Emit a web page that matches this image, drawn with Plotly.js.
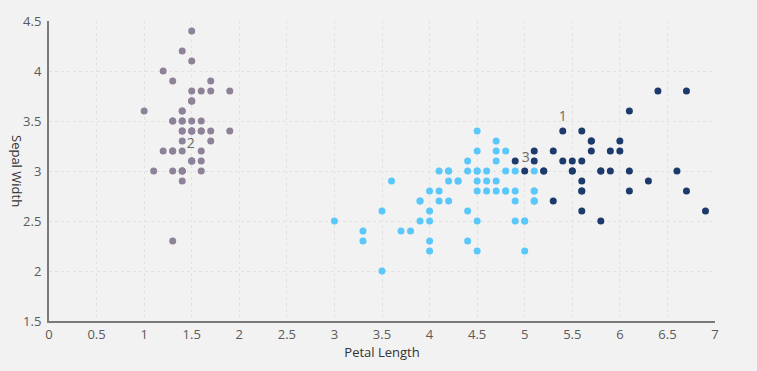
<!DOCTYPE html>
<html>
<head>
<meta charset="utf-8">
<script src="https://cdn.plot.ly/plotly-3.0.1.min.js"></script>
<style>html,body{margin:0;padding:0;background:#f2f2f2;}#chart{width:757px;height:371px;}</style>
</head>
<body>
<div id="chart"></div>
<script>
// Cluster 2 (gray)
const c2PetalLength = [1.4,1.4,1.3,1.5,1.4,1.7,1.4,1.5,1.4,1.5,1.5,1.6,1.4,1.1,1.2,1.5,1.3,1.4,1.7,1.5,1.7,1.5,1.0,1.7,1.9,1.6,1.6,1.5,1.4,1.6,1.6,1.5,1.5,1.4,1.5,1.2,1.3,1.4,1.3,1.5,1.3,1.3,1.3,1.6,1.9,1.4,1.6,1.4,1.5,1.4];
const c2SepalWidth  = [3.5,3.0,3.2,3.1,3.6,3.9,3.4,3.4,2.9,3.1,3.7,3.4,3.0,3.0,4.0,4.4,3.9,3.5,3.8,3.8,3.4,3.7,3.6,3.3,3.4,3.0,3.4,3.5,3.4,3.2,3.1,3.4,4.1,4.2,3.1,3.2,3.5,3.6,3.0,3.4,3.5,2.3,3.2,3.5,3.8,3.0,3.8,3.2,3.7,3.3];
// Cluster 3 (light blue)
const c3PetalLength = [4.7,4.5,4.0,4.6,4.5,4.7,3.3,4.6,3.9,3.5,4.2,4.0,4.7,3.6,4.4,4.5,4.1,4.5,3.9,4.8,4.0,4.9,4.7,4.3,4.4,4.8,4.5,3.5,3.8,3.7,3.9,5.1,4.5,4.5,4.7,4.4,4.1,4.0,4.4,4.6,4.0,3.3,4.2,4.2,4.2,4.3,3.0,4.1,
  5.1,4.5,5.0,5.1,5.0,4.9,4.9,4.8,4.9,5.1,4.8,5.1,5.0,5.1];
const c3SepalWidth  = [3.2,3.2,2.3,2.8,2.8,3.3,2.4,2.9,2.7,2.0,3.0,2.2,2.9,2.9,3.1,3.0,2.7,2.2,2.5,3.2,2.8,2.5,2.8,2.9,3.0,2.8,2.9,2.6,2.4,2.4,2.7,2.7,3.0,3.4,3.1,2.3,3.0,2.5,2.6,3.0,2.6,2.3,2.7,3.0,2.9,2.9,2.5,2.8,
  2.7,2.5,2.5,2.8,2.2,2.8,2.7,2.8,3.0,2.8,3.0,2.7,2.5,3.0];
// Cluster 1 (navy)
const c1PetalLength = [4.9,5.0,6.0,5.9,5.6,5.8,6.6,6.3,5.8,6.1,5.1,5.3,5.5,5.3,5.5,6.7,6.9,5.7,6.7,5.7,6.0,5.6,5.8,6.1,6.4,5.6,5.6,6.1,5.6,5.5,5.4,5.6,5.1,5.9,5.7,5.2,5.2,5.4];
const c1SepalWidth  = [3.1,3.0,3.3,3.0,2.9,3.0,3.0,2.9,2.5,3.6,3.2,2.7,3.0,3.2,3.0,3.8,2.6,3.2,2.8,3.3,3.2,2.8,3.0,2.8,3.8,2.8,2.6,3.0,3.4,3.1,3.1,3.1,3.1,3.2,3.3,3.0,3.0,3.4];
// Cluster labels
const labelText = ["1","2","3"];
const labelX = [5.40, 1.49, 5.01];
const labelY = [3.54, 3.27, 3.13];

const xTicks = [0,0.5,1,1.5,2,2.5,3,3.5,4,4.5,5,5.5,6,6.5,7];
const yTicks = [1.5,2,2.5,3,3.5,4,4.5];

const FONT = '"Segoe UI", "Open Sans", "Noto Sans", sans-serif';
const mk = (x, y, color) => ({x, y, type:'scatter', mode:'markers', marker:{color, size:7, line:{width:0}}, hoverinfo:'none', showlegend:false});

const data = [
  mk(c2PetalLength, c2SepalWidth, '#8e8299'),
  mk(c3PetalLength, c3SepalWidth, '#5ac8fa'),
  mk(c1PetalLength, c1SepalWidth, '#1c3a6b'),
  {x:labelX, y:labelY, text:labelText, type:'scatter', mode:'text', textposition:'middle center',
   textfont:{family:FONT, size:14, color:'#6e6a66'}, hoverinfo:'none', showlegend:false}
];

const axisCommon = {
  showgrid:true, gridcolor:'#e2e2e2', griddash:'dot', gridwidth:1,
  zeroline:false, showline:true, linecolor:'#7a7a7a', linewidth:2, mirror:false,
  ticks:'', tickfont:{family:FONT, size:13, color:'#5a5a5a'}
};

const layout = {
  width:757, height:371,
  paper_bgcolor:'#f2f2f2', plot_bgcolor:'#f2f2f2',
  margin:{l:49, r:42, t:21, b:50},
  font:{family:FONT},
  xaxis: Object.assign({}, axisCommon, {
    range:[0,7], tickvals:xTicks, ticktext:xTicks.map(String),
    title:{text:'Petal Length', font:{family:FONT, size:13, color:'#333'}, standoff:6}
  }),
  yaxis: Object.assign({}, axisCommon, {
    range:[1.5,4.5], tickvals:yTicks, ticktext:yTicks.map(String), ticklabelstandoff:3
  }),
  annotations:[{
    text:'Sepal Width', xref:'paper', yref:'paper', x:0, y:0.5, xshift:-32,
    showarrow:false, textangle:90, xanchor:'center', yanchor:'middle',
    font:{family:FONT, size:13, color:'#333'}
  }]
};

Plotly.newPlot('chart', data, layout, {staticPlot:true, displayModeBar:false});
</script>
</body>
</html>
